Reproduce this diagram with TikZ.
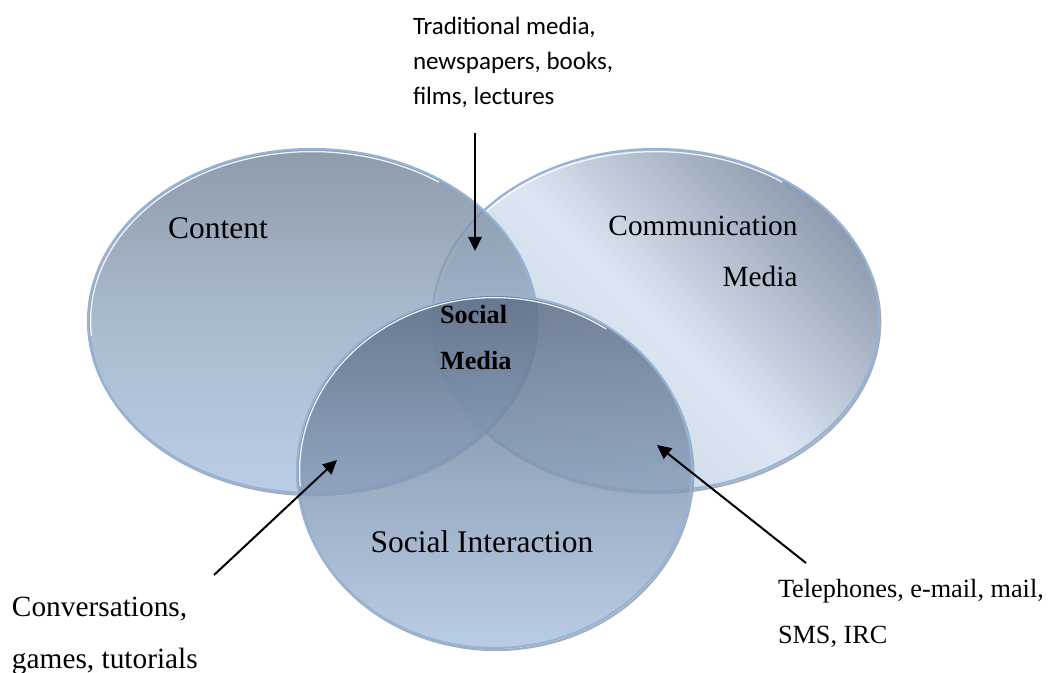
\documentclass[tikz,border=0pt]{standalone}
\usepackage{fontspec}
\setmainfont{Liberation Serif}
\newfontfamily\calibfont{Carlito}
\usetikzlibrary{shapes,shapes.geometric,positioning,arrows.meta}

\definecolor{rimblue}{HTML}{95B3D7}
\definecolor{rimshadow}{HTML}{7F8B9C}
\definecolor{ctA}{HTML}{728296}
\definecolor{ctB}{HTML}{95A9C2}
\definecolor{ctC}{HTML}{A8C1DF}
\definecolor{cmA}{HTML}{72839C}
\definecolor{cmB}{HTML}{D3E0EF}
\definecolor{cmC}{HTML}{BAC9DD}
\definecolor{siA}{HTML}{5B6B83}
\definecolor{siB}{HTML}{8297B2}
\definecolor{siC}{HTML}{A9C1DE}

\begin{document}
\begin{tikzpicture}[x=0.75pt,y=-0.75pt, line width=1.5pt
  ]
% Styles
\tikzstyle{rim} = [draw=rimblue, line width=1.6pt]
\tikzstyle{rimshade} = [draw=rimshadow, line width=1.6pt, draw opacity=.7]
\tikzstyle{gloss} = [draw=white, line width=1pt, draw opacity=.85]
\tikzstyle{lbl} = [inner sep=0pt, outer sep=0pt, text=black]
\tikzstyle{pointer} = [black, line width=1.5pt, -{Triangle[length=10.5pt,width=10pt]}]

\useasboundingbox (0,0) rectangle (1050,673);

% Centres of the three sets
\coordinate (ct) at (312,321);
\coordinate (cm) at (655.5,320);
\coordinate (si) at (494.5,471.5);

% Sets
\foreach \n/\rx/\ry/\ang/\ctop/\cmid/\cbot/\op in {cm/223.5/171/-45/cmA/cmB/cmC/.8, ct/224/172/0/ctA/ctB/ctC/.8, si/197.5/176.5/0/siA/siB/siC/.82}
{
\draw[rimshade] ([shift={(1.2,2)}]\n) ++(-25:{\rx} and {\ry}) arc[start angle=-25, end angle=195, x radius=\rx, y radius=\ry];
\shade[top color=\ctop, bottom color=\cbot, middle color=\cmid, shading angle=\ang, fill opacity=\op] (\n) ellipse [x radius=\rx, y radius=\ry];
\draw[rim] (\n) ellipse [x radius=\rx, y radius=\ry];
\draw[gloss] (\n) ++(175:{\rx-2.6} and {\ry-2.6}) arc[start angle=175, end angle=305, x radius=\rx-2.6, y radius=\ry-2.6];
}

% Labels of the sets
\node[lbl, font=\fontsize{23.6}{28}\selectfont] (content) at (218,228) {Content};
\node[lbl, font=\fontsize{22}{38}\selectfont, align=right] (commmedia) at (703,251.5) {Communication\\Media};
\node[lbl, font=\fontsize{23.6}{28}\selectfont] (socint) at (482,542) {Social Interaction};
\node[lbl, font=\bfseries\fontsize{19.7}{35}\selectfont, align=left, anchor=west] (socmedia) at (440,337.5) {Social\\Media};

% Examples
\node[lbl, font=\calibfont\fontsize{18.75}{26}\selectfont, align=left, anchor=west] (trad) at (413,62.5) {Traditional media,\\newspapers, books,\\films, lectures};
\node[lbl, font=\fontsize{22}{39}\selectfont, align=left, anchor=west] (conv) at (12,636) {Conversations,\\games, tutorials};
\node[lbl, font=\fontsize{19.7}{35}\selectfont, align=left, anchor=west] (tel) at (778,613.5) {Telephones, e-mail, mail,\\SMS, IRC};

% Arrows
\coordinate (p1) at (475,133);
\coordinate (q1) at (475,251);
\coordinate (p2) at (214,575);
\coordinate (q2) at (337,460);
\coordinate (p3) at (806,563);
\coordinate (q3) at (657,445);
\foreach \i in {1,2,3}
\draw[pointer] (p\i) -- (q\i);
\end{tikzpicture}
\end{document}
